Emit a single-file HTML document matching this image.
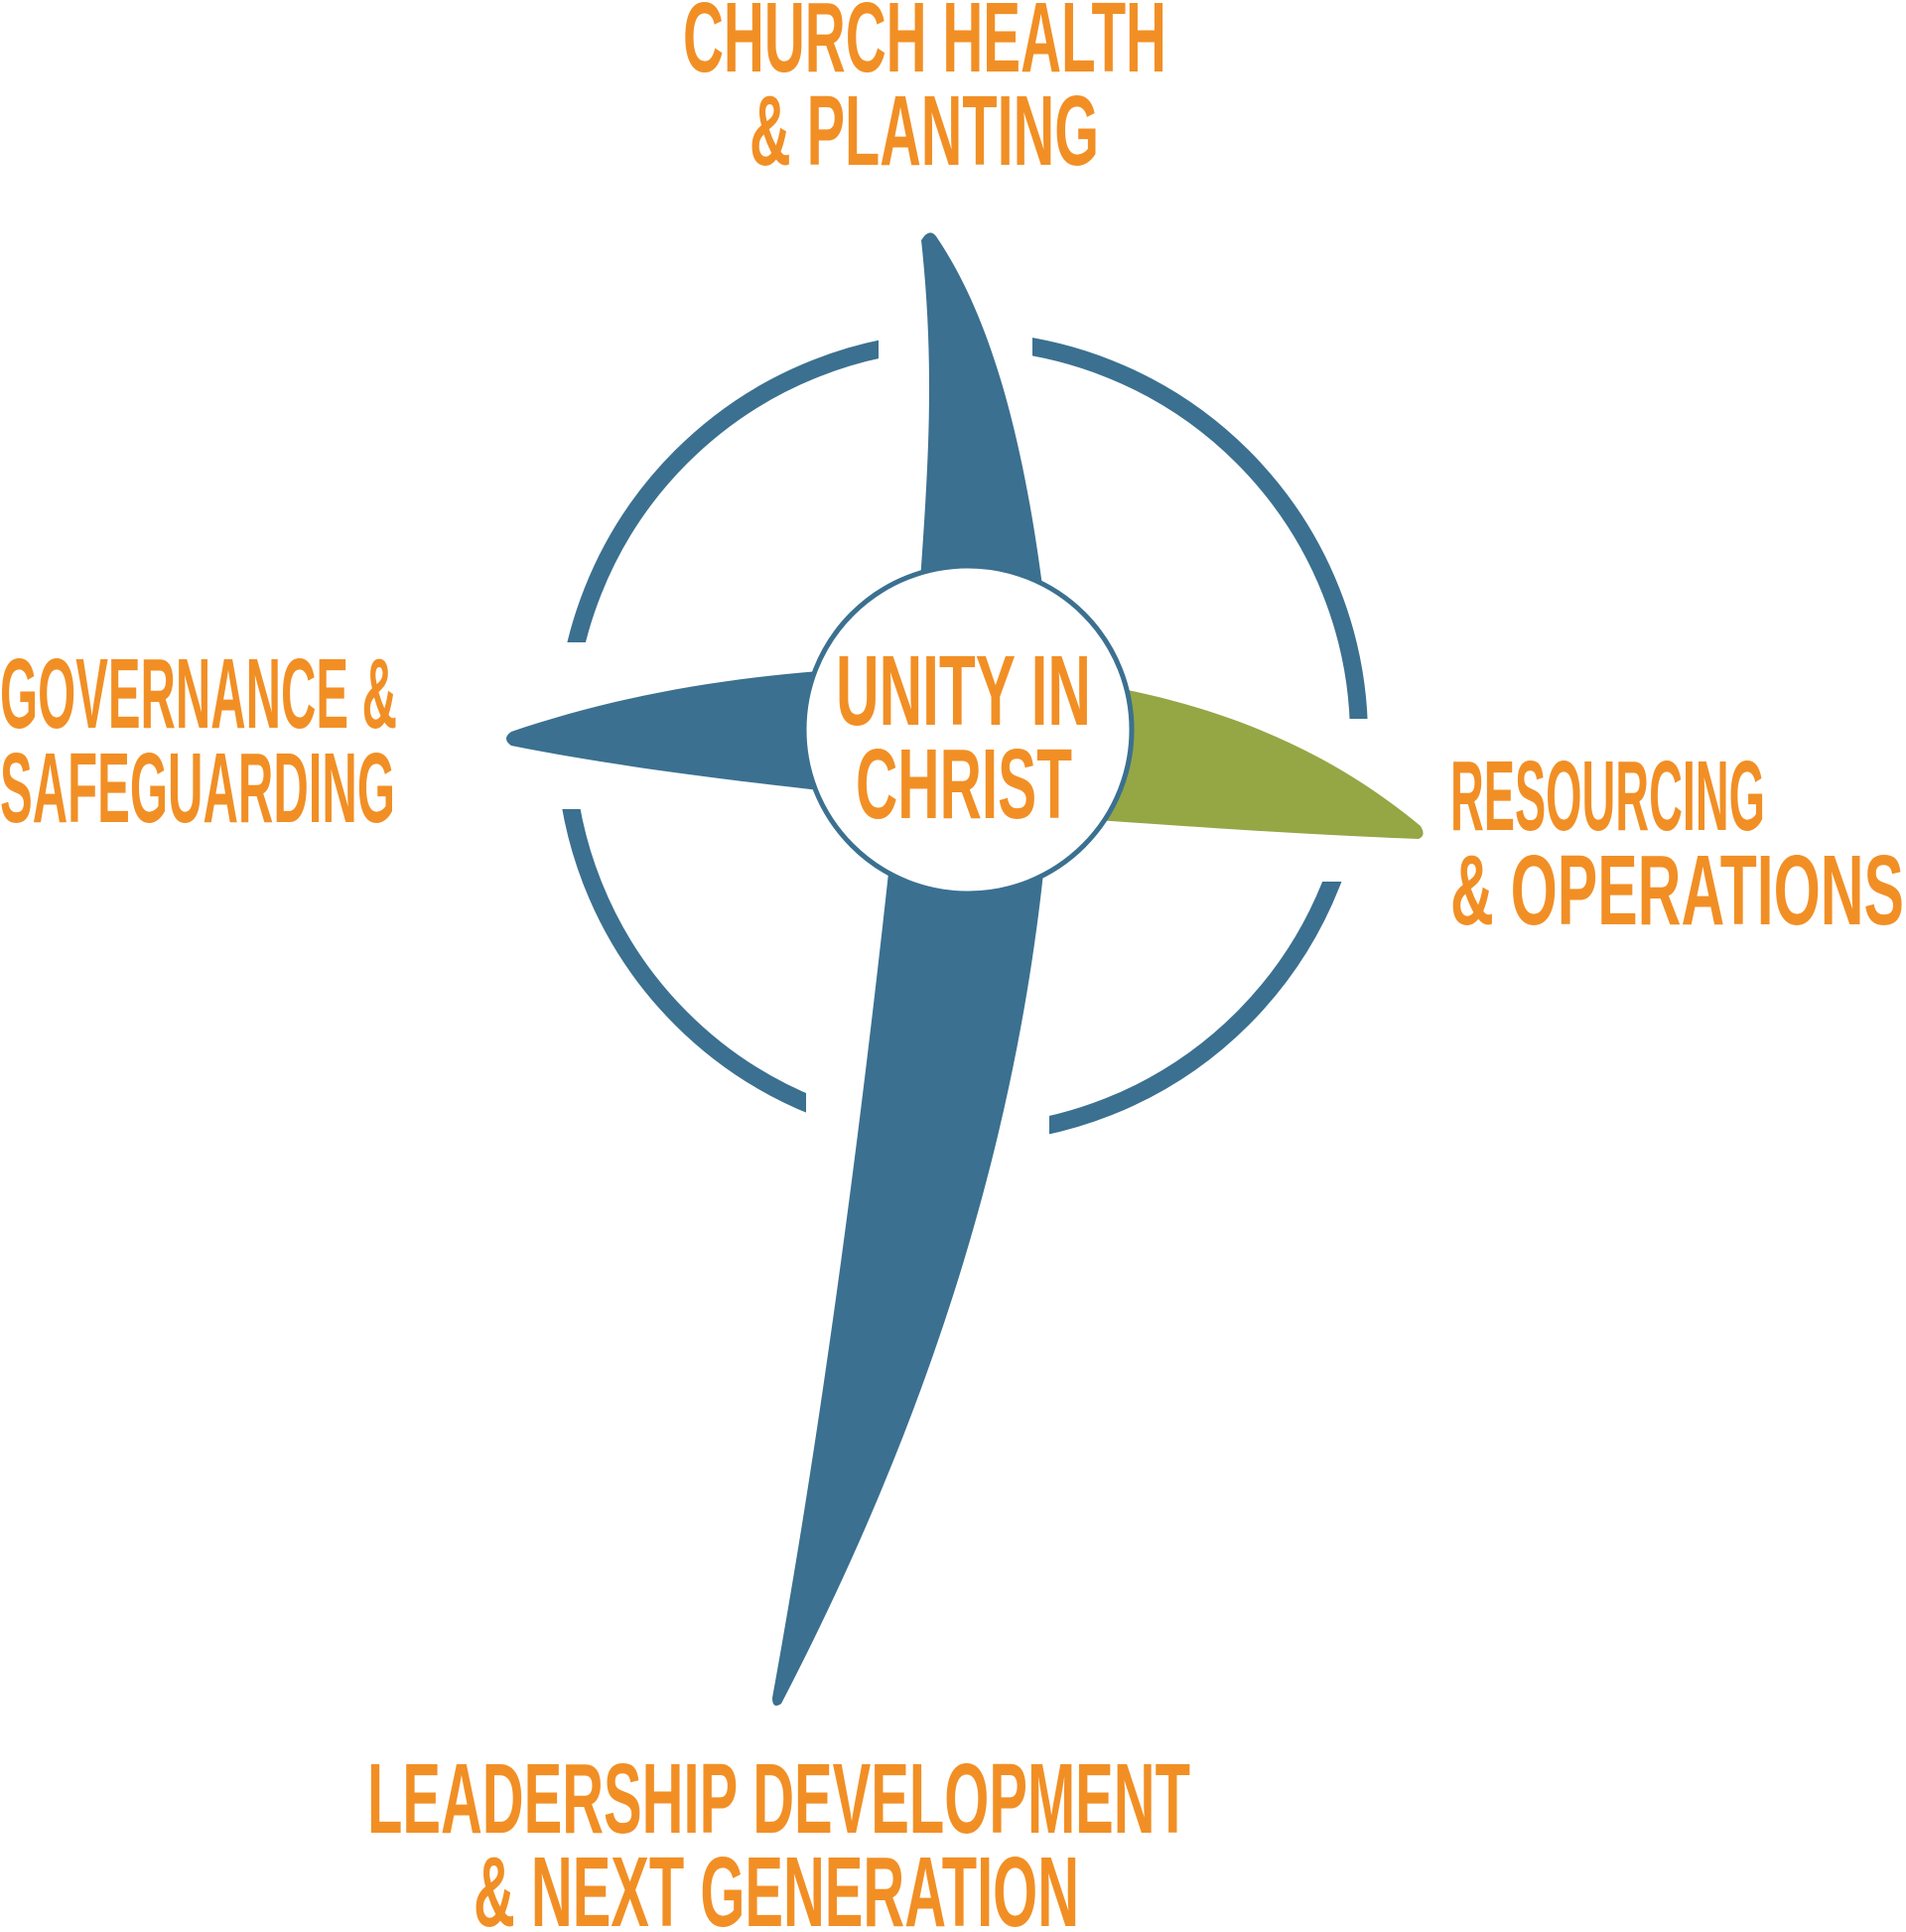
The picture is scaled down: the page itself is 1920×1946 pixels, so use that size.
<!DOCTYPE html>
<html><head><meta charset="utf-8"><style>
html,body{margin:0;padding:0;background:#fff}
svg{display:block}
text{font-family:"Liberation Sans Narrow","Liberation Sans",sans-serif;font-weight:bold;font-size:100px;fill:#f18f25}
</style></head><body>
<svg width="1920" height="1946" viewBox="0 0 1920 1946" xmlns="http://www.w3.org/2000/svg">
<circle cx="969" cy="743" r="400" fill="none" stroke="#3b7090" stroke-width="18"/>
<rect x="885" y="290" width="155" height="100" fill="#fff"/>
<rect x="520" y="647" width="110" height="168" fill="#fff"/>
<rect x="1310" y="724" width="130" height="164" fill="#fff"/>
<rect x="812" y="1080" width="245" height="100" fill="#fff"/>
<path d="M928,242 C942,370 935,470 927,585 L1050,590 C1025,400 985,300 943,238 Q936,229 928,242Z" fill="#3b7090"/>
<path d="M515,737 C600,708 700,686 825,676 L825,796 C700,782 600,768 515,751 Q505,744 515,737Z" fill="#3b7090"/>
<path d="M1110,690 C1250,715 1350,765 1431,832 Q1437,842 1429,845 C1320,841 1220,834 1105,826Z" fill="#95a645"/>
<path d="M896,870 C860,1200 820,1480 778,1710 Q778,1722 787,1716 C920,1460 1020,1180 1052,870Z" fill="#3b7090"/>
<circle cx="975" cy="735" r="165" fill="#fff" stroke="#3b7090" stroke-width="5"/>
<text x="688" y="72" textLength="487" lengthAdjust="spacingAndGlyphs">CHURCH HEALTH</text>
<text x="755" y="166" textLength="352" lengthAdjust="spacingAndGlyphs">&amp; PLANTING</text>
<text x="0" y="733" textLength="400" lengthAdjust="spacingAndGlyphs">GOVERNANCE &amp;</text>
<text x="0" y="828" textLength="398" lengthAdjust="spacingAndGlyphs">SAFEGUARDING</text>
<text x="1461" y="836" textLength="317" lengthAdjust="spacingAndGlyphs">RESOURCING</text>
<text x="1461" y="931" textLength="457" lengthAdjust="spacingAndGlyphs">&amp; OPERATIONS</text>
<text x="842" y="730" textLength="257" lengthAdjust="spacingAndGlyphs">UNITY IN</text>
<text x="862" y="824" textLength="218" lengthAdjust="spacingAndGlyphs">CHRIST</text>
<text x="370" y="1846" textLength="829" lengthAdjust="spacingAndGlyphs">LEADERSHIP DEVELOPMENT</text>
<text x="477" y="1940" textLength="610" lengthAdjust="spacingAndGlyphs">&amp; NEXT GENERATION</text>
</svg>
</body></html>
